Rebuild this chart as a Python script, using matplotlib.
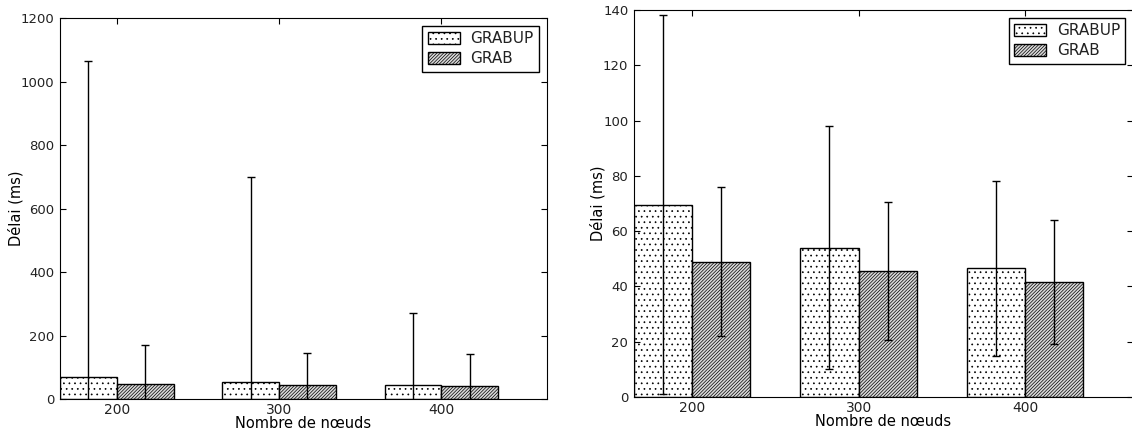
#! /usr/bin/env python

# delai moyen GRABUP vs GRAB, deux echelles
import numpy as np
import matplotlib
matplotlib.use('Agg')
import matplotlib.pyplot as plt

nodes = ['200', '300', '400']

# figure de gauche
grabup_left = [70, 53, 46]
grabup_left_err = [995, 647, 226]
grab_left = [48, 46, 41]
grab_left_err = [124, 99, 102]

# figure de droite
grabup_right = [69.5, 54, 46.5]
grabup_right_err = [68.5, 44, 31.5]
grab_right = [49, 45.5, 41.5]
grab_right_err = [27, 25, 22.5]

plt.rcParams['hatch.linewidth'] = 0.5
plt.rcParams['xtick.direction'] = 'in'
plt.rcParams['ytick.direction'] = 'in'
plt.rcParams['xtick.top'] = True
plt.rcParams['ytick.right'] = True
plt.rcParams['xtick.major.size'] = 4
plt.rcParams['ytick.major.size'] = 4
plt.rcParams['xtick.major.pad'] = 3
plt.rcParams['ytick.major.pad'] = 4
plt.rcParams['text.color'] = '#222222'
plt.rcParams['xtick.labelcolor'] = '#222222'
plt.rcParams['ytick.labelcolor'] = '#222222'

fig = plt.figure(figsize=(11.32, 4.32), dpi=100)
ax1 = fig.add_axes([0.053, 0.076, 0.430, 0.882])
ax2 = fig.add_axes([0.560, 0.081, 0.441, 0.896])

ind = np.arange(len(nodes))
width = 0.35

def draw(ax, up, up_err, gr, gr_err, ymax, step):
    ax.bar(ind, up, width, align='edge', color='white', edgecolor='black',
           hatch='...', linewidth=1, label='GRABUP',
           yerr=up_err, ecolor='black', capsize=3,
           error_kw=dict(elinewidth=1, capthick=1))
    ax.bar(ind + width, gr, width, align='edge', color='0.85', edgecolor='black',
           hatch='/' * 10, linewidth=1, label='GRAB',
           yerr=gr_err, ecolor='black', capsize=3,
           error_kw=dict(elinewidth=1, capthick=1))
    ax.set_xlim(0, 3)
    ax.set_ylim(0, ymax)
    ax.set_yticks(np.arange(0, ymax + 1, step))
    ax.set_xticks(ind + width)
    ax.set_xticklabels(nodes, fontsize=10)
    ax.tick_params(axis='y', labelsize=9.5)
    ax.set_xlabel('Nombre de nœuds', fontsize=10.5, labelpad=-1)
    ax.set_ylabel('Délai (ms)', fontsize=10.5, labelpad=-2)
    leg = ax.legend(loc='upper right', fancybox=False, fontsize=11,
                    framealpha=1, edgecolor='black', borderaxespad=0.5,
                    handlelength=2.1, handleheight=0.85, handletextpad=0.7,
                    labelspacing=0.35, borderpad=0.35)
    leg.get_frame().set_linewidth(1)

draw(ax1, grabup_left, grabup_left_err, grab_left, grab_left_err, 1200, 200)
draw(ax2, grabup_right, grabup_right_err, grab_right, grab_right_err, 140, 20)

plt.savefig('out.png', dpi=100)
